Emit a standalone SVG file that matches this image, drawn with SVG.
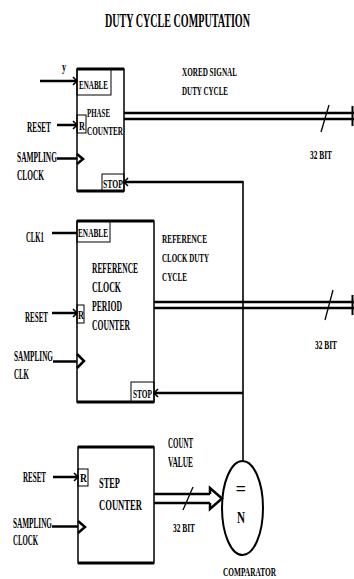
<svg xmlns="http://www.w3.org/2000/svg" width="354" height="579" viewBox="0 0 354 579">
<style>
text{font-family:"Liberation Serif","Times New Roman",serif;font-weight:bold;fill:#000}
.l{font-size:14px}
.m{font-size:13.5px}
.s{font-size:13px}
.box{fill:none;stroke:#000;stroke-width:1.5}
.thin{fill:none;stroke:#000;stroke-width:1}
.thick{fill:none;stroke:#000;stroke-width:3}
.w{fill:none;stroke:#000;stroke-width:2.5}
.head{fill:none;stroke:#000;stroke-width:1.6}
.clk{fill:none;stroke:#000;stroke-width:2.5}
</style>
<rect width="354" height="579" fill="#fff"/>
<text x="105" y="27" style="font-size:18px" textLength="145" lengthAdjust="spacingAndGlyphs">DUTY CYCLE COMPUTATION</text>

<g id="phase-counter">
<rect class="box" x="77" y="69" width="47" height="122"/>
<line class="thick" x1="77" y1="69" x2="124" y2="69"/>
<line class="thick" x1="77" y1="191" x2="124" y2="191"/>
<rect class="thin" x="77" y="69" width="34" height="26"/>
<rect class="thin" x="77" y="115" width="9" height="18"/>
<rect class="thin" x="102" y="174" width="22" height="17"/>
<polyline class="clk" points="77,154 83,159 77,164"/>
<text class="s" x="79" y="89" textLength="29" lengthAdjust="spacingAndGlyphs">ENABLE</text>
<text class="s" x="79" y="130" textLength="6" lengthAdjust="spacingAndGlyphs">R</text>
<text class="s" x="87" y="117" textLength="23" lengthAdjust="spacingAndGlyphs">PHASE</text>
<text class="s" x="87" y="135" textLength="36" lengthAdjust="spacingAndGlyphs">COUNTER</text>
<text class="s" x="103" y="188" textLength="20" lengthAdjust="spacingAndGlyphs">STOP</text>
</g>

<g id="ref-counter">
<rect class="box" x="77" y="221" width="77" height="181"/>
<line class="thick" x1="77" y1="221" x2="154" y2="221"/>
<line class="thick" x1="77" y1="402" x2="154" y2="402"/>
<rect class="thin" x="77" y="221" width="33" height="21"/>
<rect class="thin" x="77" y="305" width="7" height="18"/>
<rect class="thin" x="131" y="382" width="23" height="20"/>
<polyline class="clk" points="77,354 84,361 77,368"/>
<text class="s" x="78" y="237" textLength="30" lengthAdjust="spacingAndGlyphs">ENABLE</text>
<text class="s" x="78" y="319" textLength="6" lengthAdjust="spacingAndGlyphs">R</text>
<text class="l" x="92" y="273" textLength="46" lengthAdjust="spacingAndGlyphs">REFERENCE</text>
<text class="l" x="92" y="292" textLength="29" lengthAdjust="spacingAndGlyphs">CLOCK</text>
<text class="l" x="92" y="311" textLength="30" lengthAdjust="spacingAndGlyphs">PERIOD</text>
<text class="l" x="92" y="330" textLength="38" lengthAdjust="spacingAndGlyphs">COUNTER</text>
<text class="s" x="133" y="398" textLength="19" lengthAdjust="spacingAndGlyphs">STOP</text>
</g>

<g id="step-counter">
<rect class="box" x="78" y="447" width="76" height="116"/>
<line class="thick" x1="78" y1="447" x2="154" y2="447"/>
<line class="thick" x1="78" y1="563" x2="154" y2="563"/>
<rect class="thin" x="78" y="469" width="10" height="17"/>
<polyline class="clk" points="78,521 85,527 78,533"/>
<text class="s" x="80" y="482" textLength="7" lengthAdjust="spacingAndGlyphs">R</text>
<text class="l" x="99" y="488" textLength="21" lengthAdjust="spacingAndGlyphs">STEP</text>
<text class="l" x="99" y="510" textLength="43" lengthAdjust="spacingAndGlyphs">COUNTER</text>
</g>

<g id="comparator">
<ellipse cx="242.5" cy="508" rx="20.5" ry="47" fill="none" stroke="#000" stroke-width="2"/>
<text x="241" y="495" style="font-size:18px" text-anchor="middle">=</text>
<text x="237" y="523" style="font-size:16px" textLength="8" lengthAdjust="spacingAndGlyphs">N</text>
<text x="223" y="576" style="font-size:12.5px" textLength="53" lengthAdjust="spacingAndGlyphs">COMPARATOR</text>
</g>

<g id="labels">
<text class="s" x="62" y="71" textLength="4" lengthAdjust="spacingAndGlyphs">y</text>
<text class="l" x="27" y="132" textLength="24" lengthAdjust="spacingAndGlyphs">RESET</text>
<text class="l" x="17" y="162" textLength="40" lengthAdjust="spacingAndGlyphs">SAMPLING</text>
<text class="l" x="17" y="180" textLength="27" lengthAdjust="spacingAndGlyphs">CLOCK</text>
<text class="s" x="182" y="76" textLength="55" lengthAdjust="spacingAndGlyphs">XORED SIGNAL</text>
<text class="s" x="182" y="95" textLength="46" lengthAdjust="spacingAndGlyphs">DUTY CYCLE</text>
<text class="s" x="310" y="159" textLength="22" lengthAdjust="spacingAndGlyphs">32 BIT</text>
<text class="l" x="26" y="242" textLength="18" lengthAdjust="spacingAndGlyphs">CLK1</text>
<text class="l" x="25" y="322" textLength="23" lengthAdjust="spacingAndGlyphs">RESET</text>
<text class="l" x="14" y="361" textLength="39" lengthAdjust="spacingAndGlyphs">SAMPLING</text>
<text class="l" x="14" y="379" textLength="15" lengthAdjust="spacingAndGlyphs">CLK</text>
<text class="m" x="162" y="243" textLength="45" lengthAdjust="spacingAndGlyphs">REFERENCE</text>
<text class="m" x="162" y="262" textLength="47" lengthAdjust="spacingAndGlyphs">CLOCK DUTY</text>
<text class="m" x="162" y="281" textLength="25" lengthAdjust="spacingAndGlyphs">CYCLE</text>
<text class="s" x="315" y="349" textLength="22" lengthAdjust="spacingAndGlyphs">32 BIT</text>
<text class="l" x="23" y="482" textLength="23" lengthAdjust="spacingAndGlyphs">RESET</text>
<text class="l" x="13" y="528" textLength="39" lengthAdjust="spacingAndGlyphs">SAMPLING</text>
<text class="l" x="13" y="545" textLength="25" lengthAdjust="spacingAndGlyphs">CLOCK</text>
<text class="l" x="168" y="448" textLength="25" lengthAdjust="spacingAndGlyphs">COUNT</text>
<text class="l" x="168" y="467" textLength="25" lengthAdjust="spacingAndGlyphs">VALUE</text>
<text class="s" x="173" y="532" textLength="22" lengthAdjust="spacingAndGlyphs">32 BIT</text>
</g>

<g id="connectors">
<line class="w" x1="40" y1="81" x2="77" y2="81"/>
<polyline class="head" points="73,77 77,81 73,85"/>
<line class="w" x1="57" y1="125" x2="77" y2="125"/>
<polyline class="head" points="73,121 77,125 73,129"/>
<line class="w" x1="57" y1="158.5" x2="77" y2="158.5"/>
<line class="w" x1="124" y1="113" x2="354" y2="113"/>
<line class="w" x1="124" y1="119" x2="354" y2="119"/>
<line x1="352.5" y1="106" x2="352.5" y2="126" stroke="#000" stroke-width="2"/>
<line x1="321" y1="132" x2="329" y2="105" stroke="#000" stroke-width="1.3"/>
<line class="w" x1="52" y1="233" x2="77" y2="233"/>
<line class="w" x1="52" y1="313" x2="77" y2="313"/>
<polyline class="head" points="73,309 77,313 73,317"/>
<line class="w" x1="53" y1="361.5" x2="77" y2="361.5"/>
<line class="w" x1="154" y1="302" x2="354" y2="302"/>
<line class="w" x1="154" y1="308" x2="354" y2="308"/>
<line x1="352.5" y1="295" x2="352.5" y2="315" stroke="#000" stroke-width="2"/>
<line x1="325" y1="320" x2="333" y2="290" stroke="#000" stroke-width="1.3"/>
<line x1="243" y1="181" x2="243" y2="461" stroke="#000" stroke-width="1.6"/>
<line class="w" x1="243" y1="182" x2="124" y2="182"/>
<polyline class="head" points="128,178 124,182 128,186"/>
<line class="w" x1="243" y1="393" x2="154" y2="393"/>
<polyline class="head" points="158,389 154,393 158,397"/>
<line class="w" x1="53" y1="477" x2="78" y2="477"/>
<polyline class="head" points="74,473 78,477 74,481"/>
<line class="w" x1="52" y1="526.5" x2="78" y2="526.5"/>
<line class="w" x1="154" y1="494" x2="210" y2="494"/>
<line class="w" x1="154" y1="503" x2="210" y2="503"/>
<polyline class="w" points="210,494 210,488 222,498.5 210,509 210,503"/>
<line x1="183" y1="510" x2="193" y2="487" stroke="#000" stroke-width="1.3"/>
</g>
</svg>
